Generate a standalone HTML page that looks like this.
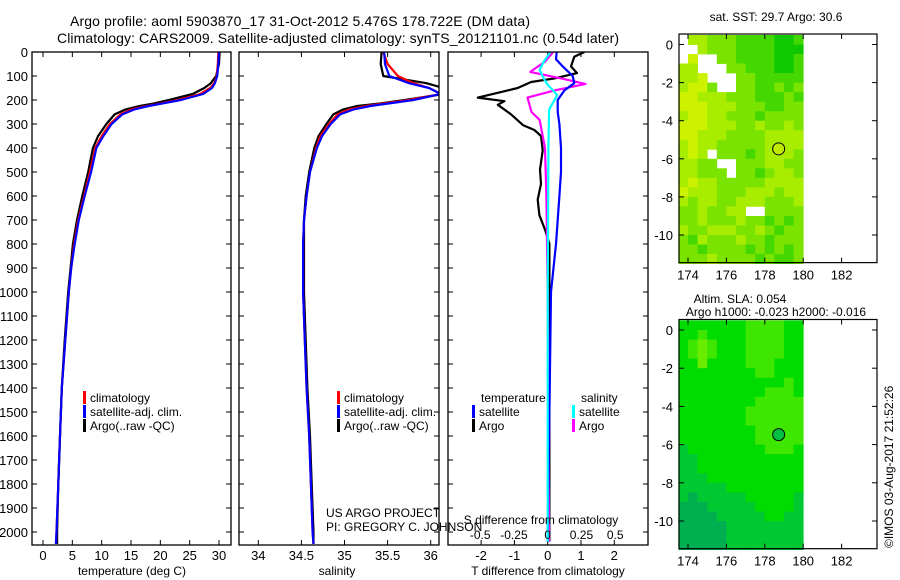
<!DOCTYPE html>
<html><head><meta charset="utf-8"><style>
body{margin:0;background:#fff;}
svg{display:block;font-family:"Liberation Sans",sans-serif;}
text{fill:#000;}
</style></head><body>
<svg id="fig" width="900" height="580" viewBox="0 0 900 580">
<defs>
<clipPath id="c1"><rect x="32" y="52" width="199" height="493"/></clipPath>
<clipPath id="c2"><rect x="239" y="52" width="200" height="493"/></clipPath>
<clipPath id="c3"><rect x="448" y="52" width="200" height="493"/></clipPath>
</defs>
<text x="300" y="26" font-size="14" text-anchor="middle" textLength="460">Argo profile: aoml 5903870_17 31-Oct-2012 5.476S 178.722E (DM data)</text>
<text x="338" y="43" font-size="14" text-anchor="middle" textLength="562">Climatology: CARS2009. Satellite-adjusted climatology: synTS_20121101.nc (0.54d later)</text>
<g id="g1"></g>
<g id="g2"></g>
<g id="g3"></g>
<g id="m1"></g>
<g id="m2"></g>
<text x="776" y="21" font-size="12" text-anchor="middle">sat. SST: 29.7 Argo: 30.6</text>
<text x="740" y="303" font-size="12" text-anchor="middle">Altim. SLA: 0.054</text>
<text x="776" y="316" font-size="12" text-anchor="middle">Argo h1000: -0.023 h2000: -0.016</text>
<text x="0" y="0" font-size="12" transform="translate(893,548) rotate(-90)">©IMOS 03-Aug-2017 21:52:26</text>
<text x="326" y="517" font-size="12">US ARGO PROJECT</text>
<text x="326" y="531" font-size="12">PI: GREGORY C. JOHNSON</text>
</svg>
<script>
// ---- profile data ----
const depths=[0,50,100,130,150,175,200,215,225,240,260,300,350,400,500,600,700,800,900,1000,1200,1400,1600,1800,2000,2050];
const tempClim=[29.9,29.8,29.6,29.2,28.5,26.8,23,20,17.7,15,13.2,11.4,10,8.9,8,7,6,5.3,4.8,4.4,3.8,3.2,2.9,2.6,2.3,2.2];
const tempSat=[30.0,29.9,29.7,29.3,28.8,27.3,23.5,20.3,18,15.5,13.5,11.7,10.3,9.1,8.2,7.1,6.1,5.4,4.8,4.4,3.8,3.2,2.9,2.6,2.3,2.2];
const tempArgo=[30.1,30.0,29.5,28.6,27.5,25.5,21.5,18.8,16.5,14,12.2,10.8,9.4,8.5,7.7,6.7,5.8,5.1,4.7,4.3,3.7,3.2,2.9,2.6,2.4,2.4];
const salClim=[35.45,35.5,35.62,35.8,35.98,36.12,35.75,35.45,35.25,35.05,34.92,34.82,34.72,34.67,34.6,34.56,34.53,34.52,34.52,34.52,34.54,34.56,34.59,34.61,34.63,34.64];
const salSat=[35.46,35.47,35.52,35.75,35.98,36.12,35.8,35.5,35.3,35.1,34.95,34.84,34.74,34.68,34.6,34.56,34.53,34.52,34.52,34.52,34.54,34.56,34.59,34.61,34.63,34.64];
const salArgo=[35.43,35.42,35.45,35.95,36.15,36.15,35.7,35.4,35.15,34.98,34.87,34.79,34.7,34.65,34.59,34.55,34.53,34.53,34.53,34.53,34.55,34.57,34.6,34.62,34.64,34.64];
const tdSatDepth=[0,30,60,100,130,160,200,250,300,400,500,600,700,800,1000,1500,2040];
const tdSat=[0.27,0.25,0.45,0.75,0.8,0.5,0.3,0.3,0.35,0.4,0.4,0.35,0.3,0.25,0.1,0.05,0.0];
const tdArgoDepth=[0,20,60,88,110,125,150,170,190,205,220,260,305,325,350,410,490,550,615,680,740,800,1000,1500,2040];
const tdArgo=[1.1,0.8,0.7,0.88,0.2,-0.5,-0.9,-1.5,-2.1,-1.3,-1.5,-1.1,-0.74,-0.4,-0.2,-0.15,-0.23,-0.2,-0.3,-0.25,-0.08,0.05,0.05,0.05,0.05];
const sdArgoDepth=[0,40,83,110,133,160,190,250,283,400,600,1000,2040];
const sdArgo=[0.04,-0.02,-0.13,0.1,0.28,0.05,-0.15,-0.12,-0.06,-0.02,-0.01,0.0,0.01];
const sdSatDepth=[0,40,75,110,137,160,180,240,400,1000,2040];
const sdSat=[0.02,-0.03,-0.06,-0.03,0.0,0.04,0.07,0.01,0.005,0.0,0.0];
const depthTicks=[0,100,200,300,400,500,600,700,800,900,1000,1100,1200,1300,1400,1500,1600,1700,1800,1900,2000];
const tempTicks=[0,5,10,15,20,25,30];
const salTicks=[34,34.5,35,35.5,36];
const tdTicks=[-2,-1,0,1,2];
const sdTicks=[-0.5,-0.25,0,0.25,0.5];
const sdTickLabels=["-0.5","-0.25","0","0.25","0.5"];
// ---- map data (0.5 deg cells, lon 173.5-180, lat 0.5 to -11.5) ----
const sstRows=["w332221111001","ww32221111000","w4ww221111001","33www22111001","334www2211111","3442ww2211212","4433322211121","4443332221122","3443322212222","4443332232232","4433322223333","3433222223333","343w222123332","3322ww2223322","33222w2212332","3433222223333","4333222333233","3233223332223","2232233ww2222","2232223221212","3223332232122","2132223221222","2212222121212","2223222212112"];
const slaRows=["2222222333322","2232222333322","2343222333322","2343222333322","2242222333222","2222222233222","2222222222232","2222222223332","2222222233333","2222222333333","2222222333333","2222222233333","2222222233333","1222222223332","1122222222222","1122222222222","1112222222222","1111122222222","1011111222221","0001111122221","0000111112211","0000011111111","0000011111111","0000011111111"];
const sstPalette=["#10c800","#44d800","#7ae400","#a8ec00","#ccf200"];
const slaPalette=["#00b050","#00c830","#00dc00","#3ee600","#6aec00"];
const lonTicks=[174,176,178,180,182];
const latTicks=[0,-2,-4,-6,-8,-10];
const argoLon=178.722, argoLat=-5.476;

const NS="http://www.w3.org/2000/svg";
function mk(parent,tag,attrs,txt){const e=document.createElementNS(NS,tag);for(const k in attrs)e.setAttribute(k,attrs[k]);if(txt!==undefined)e.textContent=txt;parent.appendChild(e);return e;}
const yD=d=>52+d*0.24;
const xT=t=>43+t*5.867;
const xS=s=>258.3+(s-34)*86.2;
const xTD=v=>547.7+v*33.3;
const xSD=v=>547.7+v*135;

function line(g,xs,ds,fx,color,clip,name,w){
  let pts=[];for(let i=0;i<xs.length;i++)pts.push(fx(xs[i]).toFixed(1)+","+yD(ds[i]).toFixed(1));
  const p=mk(g,"polyline",{points:pts.join(" "),fill:"none",stroke:color,"stroke-width":w||2.2,"clip-path":"url(#"+clip+")","stroke-linejoin":"round"});
  
  
}
function frame(g,x0,x1,name){
  const r=mk(g,"rect",{x:x0,y:52,width:x1-x0,height:493,fill:"none",stroke:"#000","stroke-width":1.3});
  
  
}
function depthAxis(g,x0,x1,labels){
  depthTicks.forEach(d=>{const y=yD(d);
    mk(g,"line",{x1:x0,y1:y,x2:x0+5,y2:y,stroke:"#000"});
    mk(g,"line",{x1:x1,y1:y,x2:x1-5,y2:y,stroke:"#000"});
    if(labels){const t=mk(g,"text",{x:28,y:y+5,"font-size":13,"text-anchor":"end"},String(d));
      
      }
  });
}
function xAxis(g,ticks,fx,labels){
  ticks.forEach((v,i)=>{const x=fx(v);
    mk(g,"line",{x1:x,y1:545,x2:x,y2:540,stroke:"#000"});
    mk(g,"line",{x1:x,y1:52,x2:x,y2:57,stroke:"#000"});
    const t=mk(g,"text",{x:x,y:560,"font-size":13,"text-anchor":"middle"},labels?labels[i]:String(v));
    
    
  });
}
function legend(g,x,y,items){
  items.forEach((it,i)=>{
    const b=mk(g,"rect",{x:x,y:y+i*14-11,width:3,height:13,fill:it[1]});
    
    
    const t=mk(g,"text",{x:x+7,y:y+i*14,"font-size":12},it[0]);
    
    
  });
}
// panel 1
const g1=document.getElementById("g1");
depthAxis(g1,32,231,true);xAxis(g1,tempTicks,xT);
line(g1,tempArgo,depths,xT,"#000","c1","argo-temperature-line");
line(g1,tempClim,depths,xT,"#f00","c1","climatology-temperature-line");
line(g1,tempSat,depths,xT,"#00f","c1","satellite-temperature-line");
frame(g1,32,231,"temperature-frame");
legend(g1,83,402,[["climatology","#f00"],["satellite-adj. clim.","#00f"],["Argo(..raw -QC)","#000"]]);
let t=mk(g1,"text",{x:132,y:575,"font-size":12,"text-anchor":"middle"},"temperature (deg C)");


// panel 2
const g2=document.getElementById("g2");
depthAxis(g2,239,439,false);xAxis(g2,salTicks,xS);
line(g2,salArgo,depths,xS,"#000","c2","argo-salinity-line");
line(g2,salClim,depths,xS,"#f00","c2","climatology-salinity-line");
line(g2,salSat,depths,xS,"#00f","c2","satellite-salinity-line");
frame(g2,239,439,"salinity-frame");
legend(g2,337,402,[["climatology","#f00"],["satellite-adj. clim.","#00f"],["Argo(..raw -QC)","#000"]]);
t=mk(g2,"text",{x:337,y:575,"font-size":12,"text-anchor":"middle"},"salinity");


// panel 3
const g3=document.getElementById("g3");
depthAxis(g3,448,648,false);xAxis(g3,tdTicks,xTD);
line(g3,tdArgo,tdArgoDepth,xTD,"#000","c3","argo-t-diff-line");
line(g3,sdArgo,sdArgoDepth,xSD,"#f0f","c3","argo-s-diff-line");
line(g3,tdSat,tdSatDepth,xTD,"#00f","c3","satellite-t-diff-line");
line(g3,sdSat,sdSatDepth,xSD,"#0ff","c3","satellite-s-diff-line");
frame(g3,448,648,"difference-frame");
t=mk(g3,"text",{x:481,y:402,"font-size":12},"temperature");
t=mk(g3,"text",{x:581,y:402,"font-size":12},"salinity");
legend(g3,472,416,[["satellite","#00f"],["Argo","#000"]]);
legend(g3,572,416,[["satellite","#0ff"],["Argo","#f0f"]]);
sdTicks.forEach((v,i)=>{const x=xSD(v);
  const s=mk(g3,"text",{x:x,y:539,"font-size":12,"text-anchor":"middle"},sdTickLabels[i]);
  
  });
t=mk(g3,"text",{x:541,y:524,"font-size":12,"text-anchor":"middle"},"S difference from climatology");
t=mk(g3,"text",{x:548,y:575,"font-size":12,"text-anchor":"middle"},"T difference from climatology");
// maps
const xLon=l=>688+(l-174)*19.2;
function drawMap(id,rows,pal,y0,yScale,circleFill,name){
  const g=document.getElementById(id);
  const yLat=l=>y0-l*yScale;
  rows.forEach((row,r)=>{for(let c=0;c<row.length;c++){const ch=row[c];if(ch==="w"||ch===" ")continue;
    const lon=173.5+c*0.5, lat=0.5-r*0.5;
    const x=xLon(lon), y=yLat(lat);
    const cell=mk(g,"rect",{x:x.toFixed(1),y:y.toFixed(1),width:(xLon(lon+0.5)-x+0.4).toFixed(1),height:(yLat(lat-0.5)-y+0.4).toFixed(1),fill:pal[+ch]});
    
    
  }});
  const top=yLat(0.55), bot=yLat(-11.45);
  const f=mk(g,"rect",{x:679,y:top,width:198,height:bot-top,fill:"none",stroke:"#000","stroke-width":1.2});
  
  
  latTicks.forEach(l=>{const y=yLat(l);
    mk(g,"line",{x1:679,y1:y,x2:684,y2:y,stroke:"#000"});
    mk(g,"line",{x1:877,y1:y,x2:872,y2:y,stroke:"#000"});
    const s=mk(g,"text",{x:673,y:y+5,"font-size":13,"text-anchor":"end"},String(l));
    
    });
  lonTicks.forEach(l=>{const x=xLon(l);
    mk(g,"line",{x1:x,y1:top,x2:x,y2:top+5,stroke:"#000"});
    mk(g,"line",{x1:x,y1:bot,x2:x,y2:bot-5,stroke:"#000"});
    const s=mk(g,"text",{x:x,y:bot+17,"font-size":13,"text-anchor":"middle"},String(l));
    
    });
  const c=mk(g,"circle",{cx:xLon(argoLon),cy:yLat(argoLat),r:6,fill:circleFill,stroke:"#000","stroke-width":1});
  
  
}
drawMap("m1",sstRows,sstPalette,44.5,19.05,"#c0e800","sst-map");
drawMap("m2",slaRows,slaPalette,330,19.1,"#00c040","sla-map");
</script>
</body></html>
